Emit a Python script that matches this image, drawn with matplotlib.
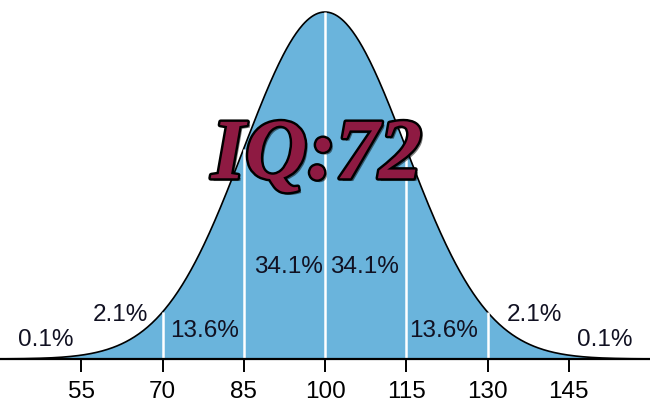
import numpy as np
import matplotlib
matplotlib.use("Agg")
import matplotlib.pyplot as plt
import matplotlib.patheffects as pe

# distribution of IQ scores
mean = 100
sd = 15
ticks = [55, 70, 85, 100, 115, 130, 145]
dividers = [70, 85, 100, 115, 130]
pct_labels = ["0.1%", "2.1%", "13.6%", "34.1%", "34.1%", "13.6%", "2.1%", "0.1%"]
pct_x = [48.4, 62.3, 77.8, 93.2, 107.3, 121.8, 138.6, 151.6]
pct_y = [0.055, 0.127, 0.081, 0.265, 0.265, 0.081, 0.127, 0.055]
title = "IQ:72"

plt.rcParams['font.family'] = ['Liberation Sans', 'DejaVu Sans']

def bell(x):
    return np.exp(-0.5 * ((np.asarray(x) - mean) / sd) ** 2)

fig = plt.figure(figsize=(6.5, 4.12), dpi=100)
ax = fig.add_axes([0, 0, 1, 1])

x = np.linspace(40, 160, 600)
y = bell(x)
ax.fill_between(x, 0, y, color='#6ab4dc', lw=0)
ax.plot(x, y, color='black', lw=1.2)
ax.vlines(dividers, 0, bell(dividers), color='white', lw=1.8)

for lab, tx, ty in zip(pct_labels, pct_x, pct_y):
    ax.text(tx, ty, lab, ha='center', va='center', fontsize=17.5, color='#111122')

ax.text(100 - 1.5, 0.58, title, ha='center', va='center', fontsize=62,
        family='Liberation Serif', weight='bold', style='italic', color='#8e1a42',
        path_effects=[pe.withSimplePatchShadow(offset=(2, -2), shadow_rgbFace='black', alpha=0.5),
                      pe.withStroke(linewidth=3.5, foreground='black')])

ax.set_xlim(40, 160)
ax.set_ylim(-0.1527, 1.0346)
for s in ['top', 'left', 'right']:
    ax.spines[s].set_visible(False)
ax.spines['bottom'].set_position(('data', 0))
ax.spines['bottom'].set_linewidth(1.6)
ax.set_yticks([])
ax.set_xticks(ticks)
ax.tick_params(axis='x', direction='out', length=9.5, width=1.4, pad=6, labelsize=17.5)

fig.savefig("out.png", dpi=100)
